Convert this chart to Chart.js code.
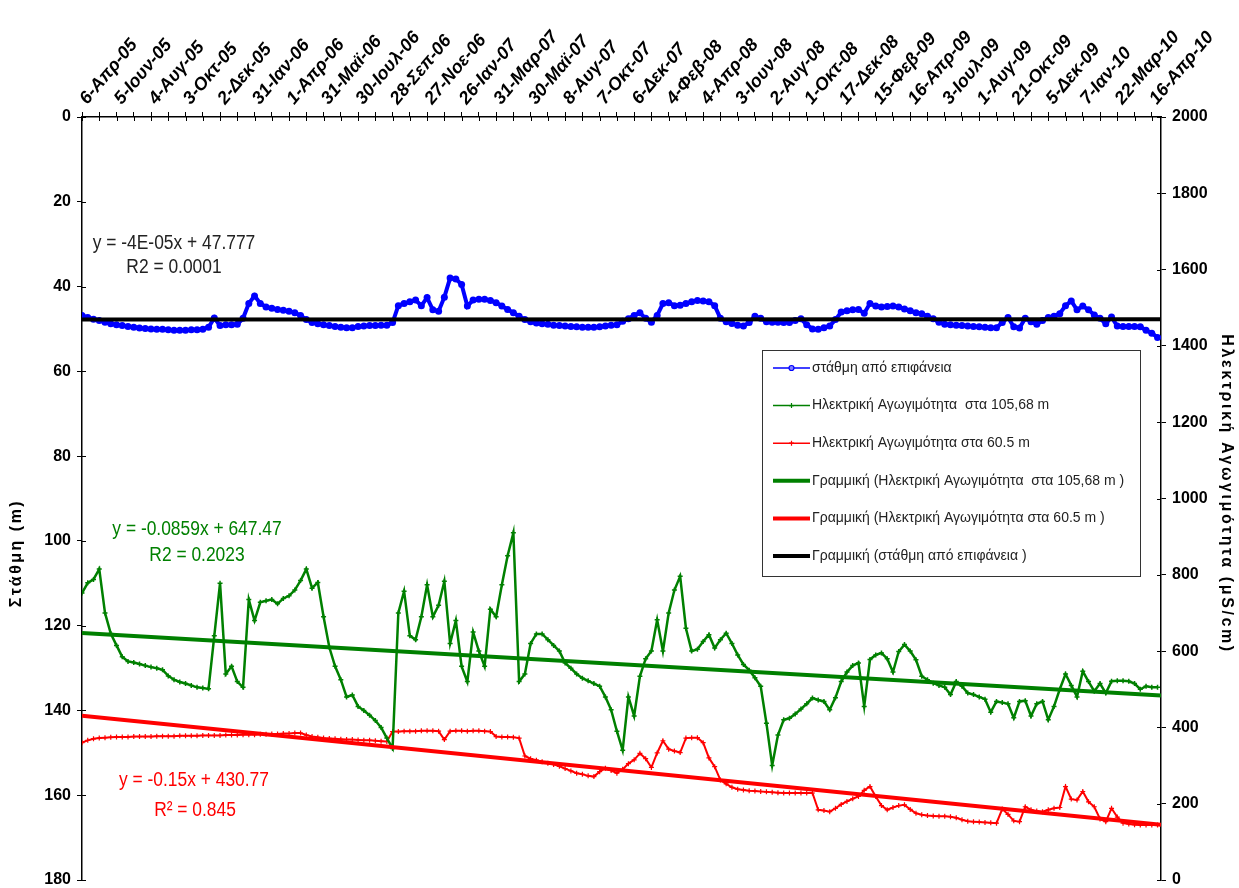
<!DOCTYPE html>
<html>
<head>
<meta charset="utf-8">
<script src="https://cdn.jsdelivr.net/npm/chart.js@4.4.1/dist/chart.umd.min.js"></script>
<style>
  html, body { margin: 0; padding: 0; background: #fff; }
  #wrap { width: 1239px; height: 888px; position: relative; }
</style>
</head>
<body>
<div id="wrap"><canvas id="chart"></canvas></div>
<script>
// one label every 6 steps along the x axis (each step ~10 measurements)
const dateLabels = [
    "6-Απρ-05", "5-Ιουν-05", "4-Αυγ-05", "3-Οκτ-05", "2-Δεκ-05", "31-Ιαν-06",
    "1-Απρ-06", "31-Μαϊ-06", "30-Ιουλ-06", "28-Σεπ-06", "27-Νοε-06", "26-Ιαν-07",
    "31-Μαρ-07", "30-Μαϊ-07", "8-Αυγ-07", "7-Οκτ-07", "6-Δεκ-07", "4-Φεβ-08",
    "4-Απρ-08", "3-Ιουν-08", "2-Αυγ-08", "1-Οκτ-08", "17-Δεκ-08", "15-Φεβ-09",
    "16-Απρ-09", "3-Ιουλ-09", "1-Αυγ-09", "21-Οκτ-09", "5-Δεκ-09", "7-Ιαν-10",
    "22-Μαρ-10", "16-Απρ-10"
];

// στάθμη (m)
const level = [
    46.8, 47.3, 47.7, 48.0, 48.4, 48.8, 49.0, 49.2, 49.4, 49.6,
    49.8, 49.9, 50.0, 50.1, 50.1, 50.2, 50.3, 50.3, 50.3, 50.2,
    50.2, 50.1, 49.6, 47.4, 49.2, 49.0, 49.0, 48.9, 47.5, 44.0,
    42.2, 44.0, 44.8, 45.1, 45.4, 45.6, 45.8, 46.2, 46.8, 47.8,
    48.5, 48.8, 49.0, 49.2, 49.4, 49.6, 49.7, 49.7, 49.4, 49.3,
    49.2, 49.2, 49.1, 49.1, 48.5, 44.5, 44.0, 43.6, 43.2, 44.5,
    42.6, 45.5, 45.8, 42.5, 38.0, 38.2, 39.5, 44.6, 43.2, 43.0,
    43.0, 43.3, 43.8, 44.6, 45.4, 46.2, 47.0, 47.8, 48.3, 48.6,
    48.8, 48.9, 49.1, 49.2, 49.3, 49.4, 49.5, 49.6, 49.6, 49.6,
    49.5, 49.3, 49.1, 49.0, 48.2, 47.6, 46.8, 46.2, 47.5, 48.4,
    46.8, 44.0, 43.8, 44.5, 44.4, 44.0, 43.6, 43.3, 43.4, 43.6,
    44.5, 47.5, 48.3, 48.7, 49.1, 49.3, 48.5, 47.0, 47.5, 48.3,
    48.4, 48.4, 48.5, 48.5, 48.0, 47.6, 49.0, 50.0, 50.1, 49.7,
    49.3, 47.8, 46.0, 45.7, 45.5, 45.4, 46.3, 44.0, 44.6, 44.8,
    44.7, 44.6, 44.8, 45.3, 45.7, 46.2, 46.4, 47.0, 47.6, 48.4,
    48.9, 49.0, 49.1, 49.2, 49.3, 49.4, 49.5, 49.6, 49.7, 49.7,
    48.5, 47.3, 49.5, 49.8, 47.5, 48.3, 48.9, 48.0, 47.3, 47.0,
    46.4, 44.5, 43.4, 45.5, 44.6, 45.5, 46.7, 47.5, 48.8, 47.2,
    49.3, 49.4, 49.4, 49.4, 49.5, 50.3, 51.0, 52.0
];

// Ηλεκτρική Αγωγιμότητα στα 105,68 m (μS/cm)
const ecDeep = [
    752, 779, 788, 815, 700, 646, 615, 585, 573, 570,
    566, 562, 558, 555, 551, 535, 525, 519, 515, 510,
    505, 503, 501, 640, 778, 540, 560, 520, 505, 735,
    680, 728, 732, 735, 724, 738, 745, 760, 785, 815,
    765, 780, 690, 610, 560, 525, 480, 485, 455, 444,
    432, 418, 400, 372, 345, 700, 757, 640, 630, 690,
    774, 690, 720, 783, 620, 680, 560, 520, 650, 600,
    560, 710, 690, 774, 850, 910, 520, 540, 620, 645,
    645, 630, 615, 600, 569, 555, 540, 529, 522, 515,
    508, 480, 446, 390, 340, 480, 430, 534, 580, 600,
    682, 600, 700, 760, 796, 660, 600, 605, 625, 643,
    608, 630, 647, 620, 590, 565, 550, 530, 508, 411,
    300, 380, 420, 424, 435, 448, 462, 477, 472, 468,
    446, 478, 520, 545, 562, 569, 455, 578, 590, 595,
    580, 545, 599, 617, 600, 577, 534, 525, 516, 510,
    505, 486, 520, 508, 490, 486, 480, 474, 440, 468,
    465, 462, 425, 468, 470, 430, 462, 468, 420, 455,
    500, 540, 510, 480, 547, 520, 495, 515, 490, 521,
    522, 522, 521, 515, 500, 508, 505, 505
];

// Ηλεκτρική Αγωγιμότητα στα 60.5 m (μS/cm)
const ecShallow = [
    360, 366, 370, 372, 373, 374, 375, 375, 375, 376,
    376, 376, 376, 377, 377, 377, 377, 378, 378, 378,
    378, 379, 379, 379, 379, 380, 380, 380, 381, 381,
    381, 382, 382, 383, 383, 384, 384, 385, 385, 380,
    376, 374, 372, 371, 370, 369, 368, 368, 367, 366,
    366, 365, 364, 363, 389, 389, 390, 390, 390, 391,
    391, 391, 390, 368, 390, 391, 391, 390, 391, 391,
    390, 389, 376, 375, 375, 374, 372, 325, 318, 314,
    310, 306, 303, 298, 292, 286, 280, 277, 273, 271,
    284, 293, 287, 280, 290, 305, 315, 332, 318, 295,
    333, 365, 343, 338, 334, 372, 373, 373, 360, 320,
    297, 262, 252, 243, 238, 236, 234, 233, 232, 231,
    230, 229, 228, 228, 228, 228, 228, 228, 184, 182,
    179, 188, 198, 206, 213, 219, 235, 245, 219, 195,
    184, 190, 195, 197, 185, 175, 171, 169, 168, 167,
    167, 166, 163, 158, 154, 153, 152, 151, 150, 149,
    186, 172, 155, 153, 192, 184, 181, 179, 184, 188,
    190, 245, 212, 210, 232, 205, 192, 160, 153, 188,
    165, 149, 147, 145, 144, 144, 144, 144
];

// linear trends as printed on the chart: [slope, intercept], x = measurement number
const trendLevel = [-0.00004, 47.777];
const trendDeep = [-0.0859, 647.47];
const trendShallow = [-0.15, 430.77];

const X_MAX = 187.6;
const SAMPLES_PER_STEP = 10.17;

function toPoints(values) {
    return values.map((v, i) => ({ x: i, y: v }));
}

function trendPoints(coef) {
    return [0, X_MAX].map(x => ({ x: x, y: coef[0] * x * SAMPLES_PER_STEP + coef[1] }));
}

const FONT = "'Liberation Sans', Arial, sans-serif";

// equation labels: text, colour, centre x, centre y
const equations = [
    ["y = -4E-05x + 47.777", "#222", 174, 243],
    ["R2 = 0.0001", "#222", 174, 267],
    ["y = -0.0859x + 647.47", "#008000", 197, 529],
    ["R2 = 0.2023", "#008000", 197, 555],
    ["y = -0.15x + 430.77", "#ff0000", 194, 780],
    ["R\u00b2 = 0.845", "#ff0000", 195, 810]
];

const overlay = {
    id: 'overlay',
    afterDraw(chart) {
        const ctx = chart.ctx;
        const area = chart.chartArea;
        ctx.save();

        // tick marks also reach a little into the plot (Excel "cross" ticks)
        ctx.strokeStyle = "#000";
        ctx.lineWidth = 1;
        ctx.beginPath();
        const xs = chart.scales.x;
        xs.ticks.forEach(t => {
            const px = Math.round(xs.getPixelForValue(t.value)) + 0.5;
            ctx.moveTo(px, area.top);
            ctx.lineTo(px, area.top + 4);
        });
        const yl = chart.scales.yLevel;
        yl.ticks.forEach(t => {
            const py = Math.round(yl.getPixelForValue(t.value)) + 0.5;
            ctx.moveTo(area.left, py);
            ctx.lineTo(area.left + 4, py);
        });
        const yr = chart.scales.yEc;
        yr.ticks.forEach(t => {
            const py = Math.round(yr.getPixelForValue(t.value)) + 0.5;
            ctx.moveTo(area.right, py);
            ctx.lineTo(area.right - 4, py);
        });
        ctx.stroke();

        // trend equations
        ctx.font = "20px " + FONT;
        ctx.textAlign = "center";
        ctx.textBaseline = "middle";
        equations.forEach(e => {
            ctx.save();
            ctx.fillStyle = e[1];
            ctx.translate(e[2], e[3]);
            ctx.scale(0.87, 1);
            ctx.fillText(e[0], 0, 0);
            ctx.restore();
        });

        // axis titles
        ctx.fillStyle = "#000";
        ctx.font = "bold 16px " + FONT;
        ctx.save();
        ctx.letterSpacing = "2.5px";
        ctx.translate(17, 553);
        ctx.rotate(-Math.PI / 2);
        ctx.fillText("Στάθμη (m)", 0, 0);
        ctx.restore();
        ctx.save();
        ctx.letterSpacing = "2.6px";
        ctx.translate(1226, 494);
        ctx.rotate(Math.PI / 2);
        ctx.fillText("Ηλεκτρική Αγωγιμότητα (μS/cm)", 0, 0);
        ctx.restore();

        // legend box
        const bx = 762, by = 350, bw = 378, bh = 226;
        ctx.fillStyle = "#fff";
        ctx.fillRect(bx, by, bw, bh);
        ctx.strokeStyle = "#333";
        ctx.lineWidth = 1;
        ctx.strokeRect(bx + 0.5, by + 0.5, bw, bh);

        ctx.font = "14px " + FONT;
        ctx.textAlign = "left";
        chart.data.datasets.forEach((ds, i) => {
            const y = 368 + i * 37.6;
            const isTrend = ds.pointRadius === 0;
            ctx.strokeStyle = ds.borderColor;
            ctx.lineWidth = isTrend ? 4 : 1.5;
            ctx.beginPath();
            ctx.moveTo(773, y);
            ctx.lineTo(810, y);
            ctx.stroke();
            if (!isTrend) {
                ctx.lineWidth = 1.2;
                ctx.beginPath();
                if (ds.pointStyle === 'circle') {
                    ctx.arc(791.5, y, 2.5, 0, Math.PI * 2);
                    ctx.fillStyle = "#8080ff";
                    ctx.fill();
                } else {
                    ctx.moveTo(789, y); ctx.lineTo(794, y);
                    ctx.moveTo(791.5, y - 2.5); ctx.lineTo(791.5, y + 2.5);
                }
                ctx.stroke();
            }
            ctx.fillStyle = "#222";
            ctx.fillText(ds.label, 812, y);
        });

        ctx.restore();
    }
};

const datasets = [
    {
        label: "στάθμη από επιφάνεια",
        data: toPoints(level),
        yAxisID: 'yLevel',
        borderColor: "#0000ff",
        backgroundColor: "#0000ff",
        borderWidth: 4,
        pointStyle: 'circle',
        pointRadius: 3.5,
        pointBorderWidth: 0,
        order: 2
    },
    {
        label: "Ηλεκτρική Αγωγιμότητα  στα 105,68 m",
        data: toPoints(ecDeep),
        yAxisID: 'yEc',
        borderColor: "#008000",
        backgroundColor: "#008000",
        borderWidth: 2.5,
        pointStyle: 'cross',
        pointRadius: 2.5,
        pointBorderWidth: 1.5,
        order: 2
    },
    {
        label: "Ηλεκτρική Αγωγιμότητα στα 60.5 m",
        data: toPoints(ecShallow),
        yAxisID: 'yEc',
        borderColor: "#ff0000",
        backgroundColor: "#ff0000",
        borderWidth: 2,
        pointStyle: 'cross',
        pointRadius: 2.5,
        pointBorderWidth: 1.2,
        order: 2
    },
    {
        label: "Γραμμική (Ηλεκτρική Αγωγιμότητα  στα 105,68 m )",
        data: trendPoints(trendDeep),
        yAxisID: 'yEc',
        borderColor: "#008000",
        borderWidth: 4,
        pointRadius: 0,
        order: 1
    },
    {
        label: "Γραμμική (Ηλεκτρική Αγωγιμότητα στα 60.5 m )",
        data: trendPoints(trendShallow),
        yAxisID: 'yEc',
        borderColor: "#ff0000",
        borderWidth: 4,
        pointRadius: 0,
        order: 1
    },
    {
        label: "Γραμμική (στάθμη από επιφάνεια )",
        data: trendPoints(trendLevel),
        yAxisID: 'yLevel',
        borderColor: "#000000",
        borderWidth: 4,
        pointRadius: 0,
        order: 0
    }
];

// fixed axis box sizes so the plot area lands where the original has it
function fixWidth(width) {
    return function (scale) {
        scale.width = width;
        scale.paddingTop = 0;
        scale.paddingBottom = 0;
    };
}

Chart.defaults.font.family = FONT;
Chart.defaults.color = "#000";

new Chart(document.getElementById('chart'), {
    type: 'line',
    data: { datasets: datasets },
    options: {
        responsive: true,
        maintainAspectRatio: false,
        animation: false,
        layout: { padding: { top: 0, left: 0, right: 0, bottom: 8 } },
        elements: { line: { tension: 0 } },
        plugins: {
            legend: { display: false },
            tooltip: { enabled: false }
        },
        scales: {
            x: {
                type: 'linear',
                position: 'top',
                min: 0,
                max: X_MAX,
                afterBuildTicks(scale) {
                    const ticks = [];
                    for (let v = 0; v <= (dateLabels.length - 1) * 6; v += 3) ticks.push({ value: v });
                    scale.ticks = ticks;
                },
                afterFit(scale) { scale.height = 117; },
                grid: { drawOnChartArea: false, tickLength: 5, color: "#000", tickWidth: 1 },
                border: { color: "#000", width: 1.5 },
                ticks: {
                    autoSkip: false,
                    minRotation: 50,
                    maxRotation: 50,
                    padding: 3,
                    labelOffset: 18,
                    font: { size: 18, style: 'italic', weight: 'bold' },
                    callback: (value) => value % 6 === 0 ? dateLabels[value / 6] : ''
                }
            },
            yLevel: {
                position: 'left',
                reverse: true,
                min: 0,
                max: 180,
                afterFit: fixWidth(82),
                grid: { drawOnChartArea: false, tickLength: 5, color: "#000" },
                border: { color: "#000", width: 1.5 },
                ticks: { stepSize: 20, padding: 6, font: { size: 16, weight: 'bold' } }
            },
            yEc: {
                position: 'right',
                min: 0,
                max: 2000,
                afterFit: fixWidth(78),
                grid: { drawOnChartArea: false, tickLength: 5, color: "#000" },
                border: { color: "#000", width: 1.5 },
                ticks: {
                    stepSize: 200,
                    padding: 6,
                    font: { size: 16, weight: 'bold' },
                    callback: (value) => String(value)
                }
            }
        }
    },
    plugins: [overlay]
});
</script>
</body>
</html>
